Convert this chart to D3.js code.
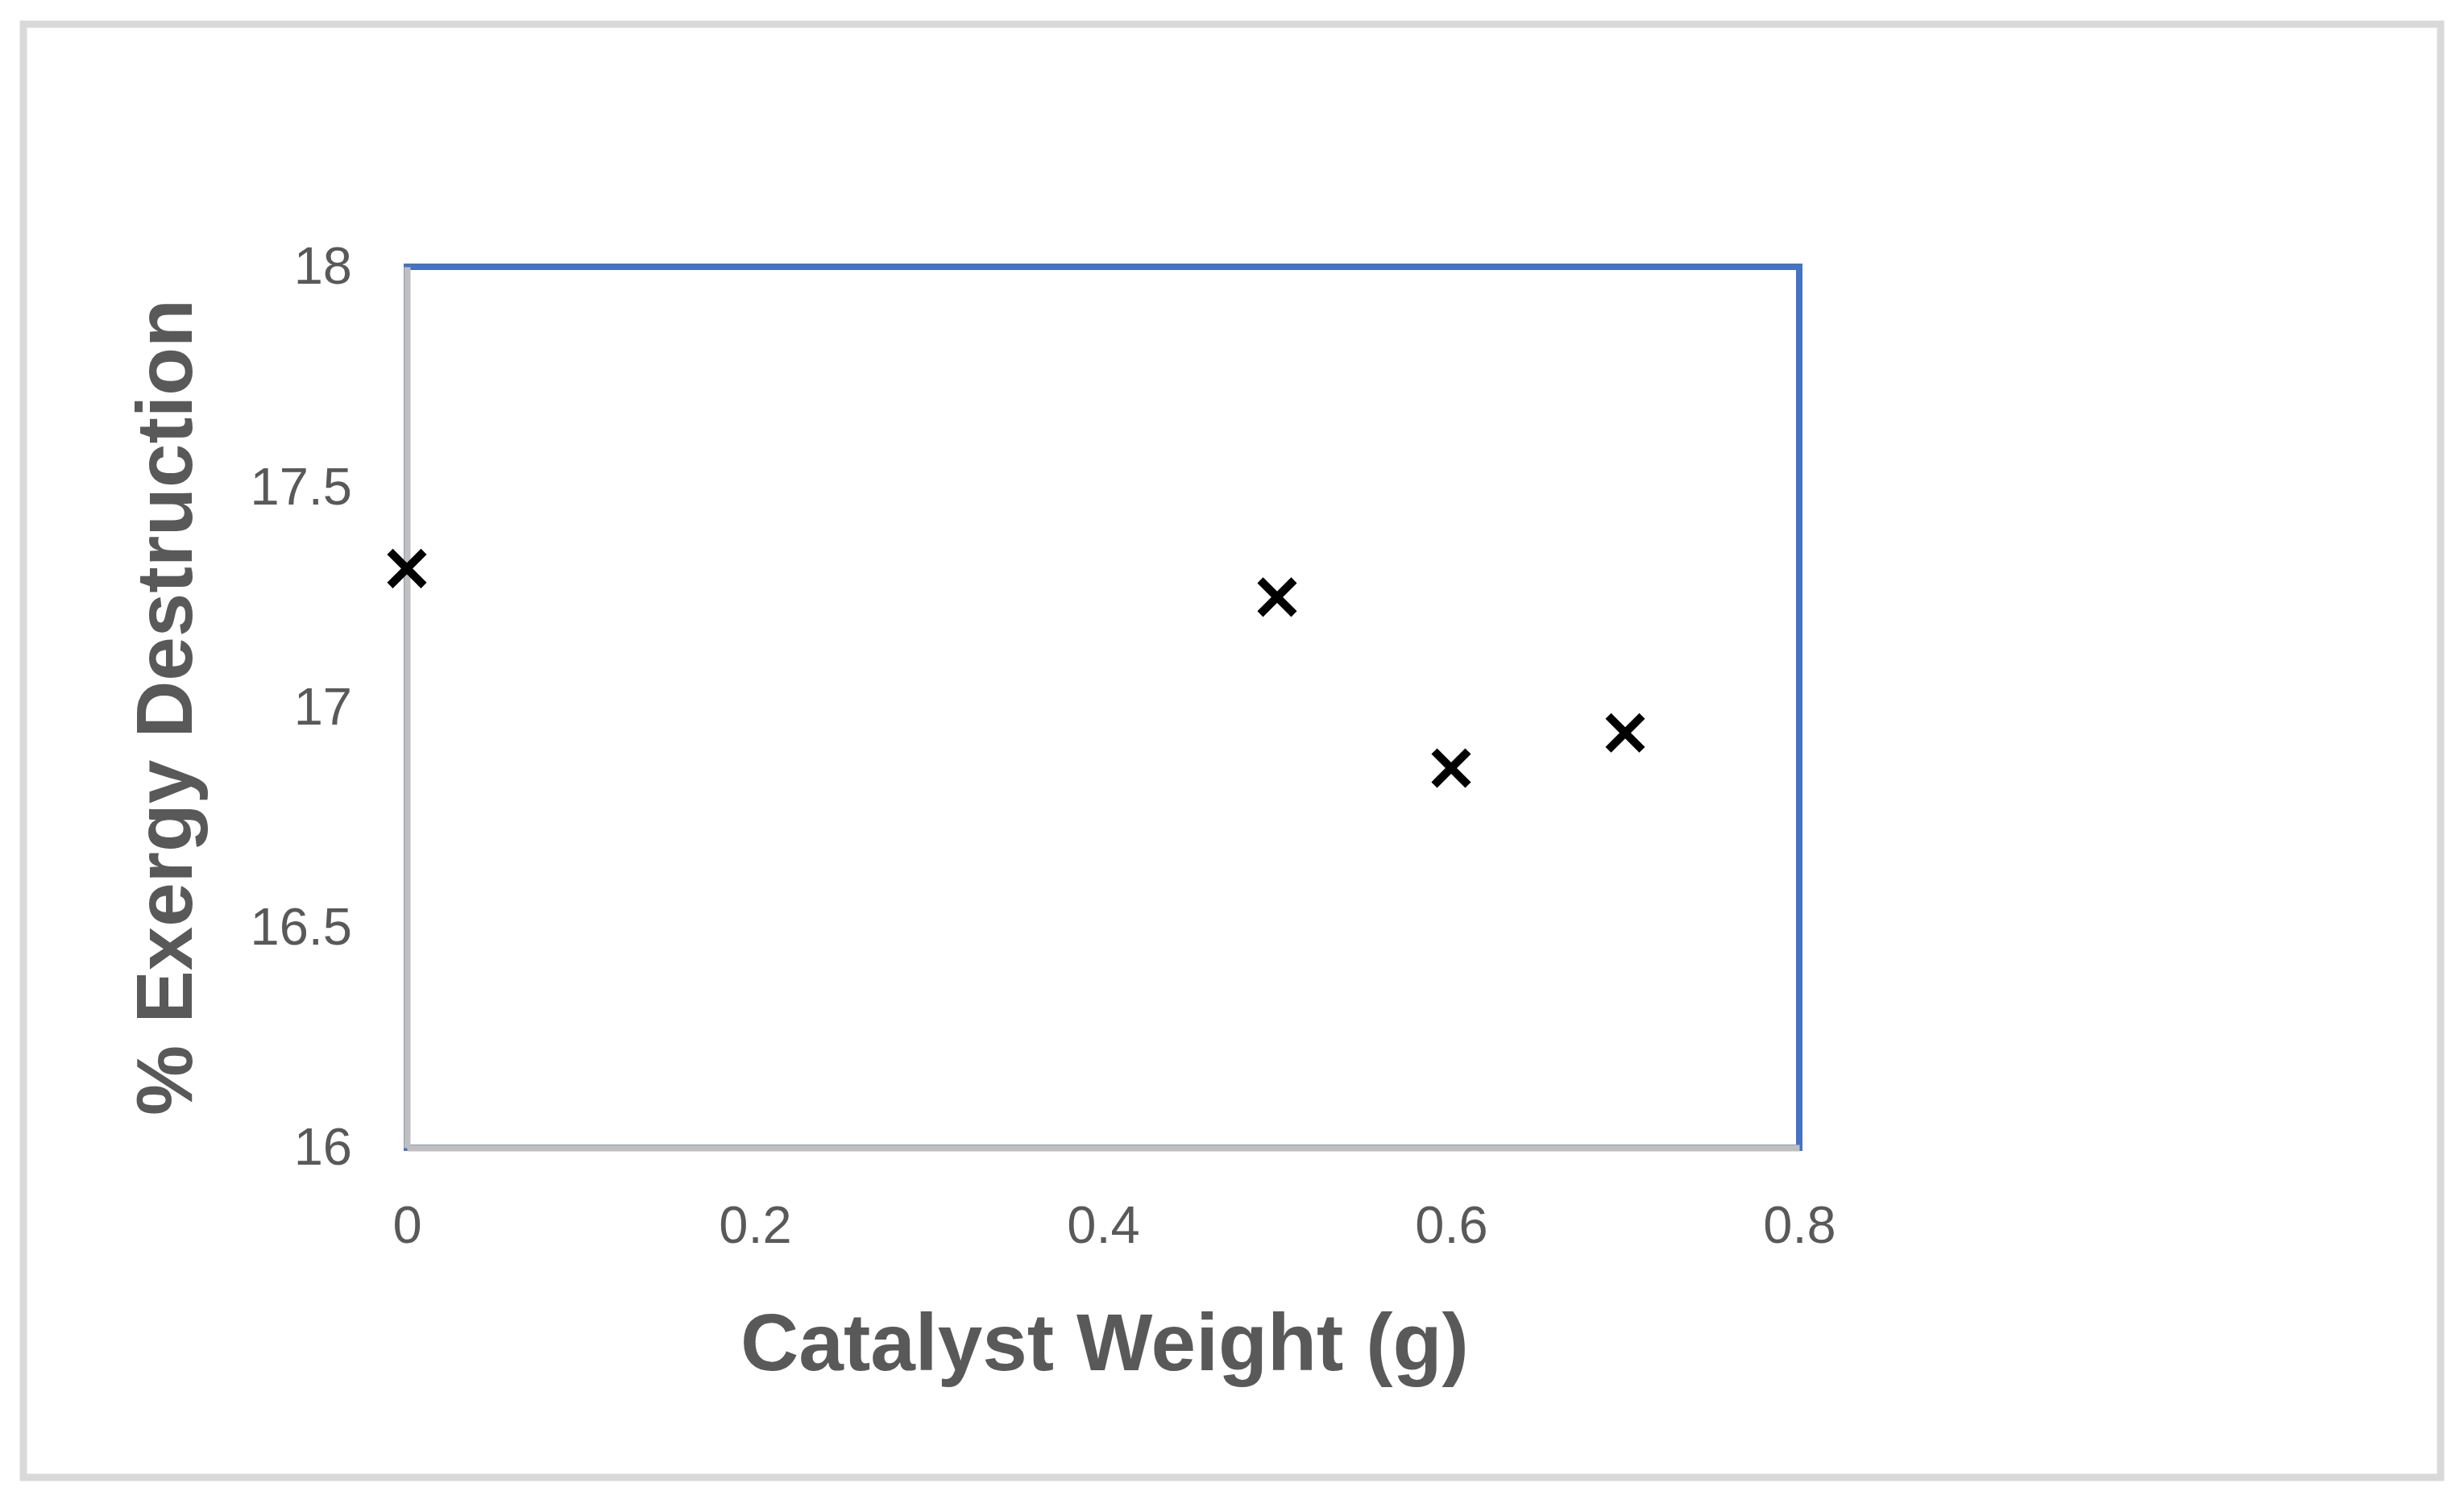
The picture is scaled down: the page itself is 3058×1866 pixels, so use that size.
<!DOCTYPE html>
<html lang="en">
<head>
<meta charset="utf-8">
<title>Exergy Destruction vs Catalyst Weight</title>
<style>
  body { margin: 0; background: #fff; }
  svg { display: block; }
  .tick text { font-family: "Liberation Sans", Arial, sans-serif; fill: #595959; }
  .axis-title { font-family: "Liberation Sans", Arial, sans-serif; font-weight: bold; fill: #595959; }
</style>
</head>
<body>
<svg width="3058" height="1866"></svg>
<script src="https://cdnjs.cloudflare.com/ajax/libs/d3/7.8.5/d3.min.js"></script>
<script>

// data
var catalystWeight = [0, 0.5, 0.6, 0.7];
var exergyDestruction = [17.315, 17.25, 16.862, 16.942];

var xTicks = [0, 0.2, 0.4, 0.6, 0.8];
var yTicks = [16, 16.5, 17, 17.5, 18];

var svg = d3.select("svg"),
    margin = {top: 331, right: 825, bottom: 442, left: 505},
    width = +svg.attr("width") - margin.left - margin.right,
    height = +svg.attr("height") - margin.top - margin.bottom;

// outer chart frame
svg.append("rect")
    .attr("x", 29).attr("y", 30)
    .attr("width", 3000).attr("height", 1803)
    .attr("fill", "#fff")
    .attr("stroke", "#d9d9d9")
    .attr("stroke-width", 9);

var g = svg.append("g").attr("transform", "translate(" + margin.left + "," + margin.top + ")");

var x = d3.scaleLinear().domain([0, 0.8]).range([0, width]);
var y = d3.scaleLinear().domain([16, 18]).range([height, 0]);

// plot area border (blue)
g.append("rect")
    .attr("x", 0).attr("y", 0)
    .attr("width", width).attr("height", height)
    .attr("fill", "none")
    .attr("stroke", "#4472c4")
    .attr("stroke-width", 8);

// axes
var xAxis = g.append("g")
    .attr("transform", "translate(0," + height + ")")
    .call(d3.axisBottom(x).tickValues(xTicks).tickSize(0).tickPadding(72).tickFormat(d3.format("")));
xAxis.select(".domain").attr("stroke", "#bfbfbf").attr("stroke-width", 8);
xAxis.selectAll(".tick text").attr("font-size", 65);

var yAxis = g.append("g")
    .call(d3.axisLeft(y).tickValues(yTicks).tickSize(0).tickPadding(68).tickFormat(d3.format("")));
yAxis.select(".domain").attr("stroke", "#bfbfbf").attr("stroke-width", 8);
yAxis.selectAll(".tick text").attr("font-size", 65);

// axis titles
g.append("text")
    .attr("class", "axis-title")
    .attr("x", x(0.4) + 2)
    .attr("y", height + 276)
    .attr("text-anchor", "middle")
    .attr("font-size", 100)
    .text("Catalyst Weight (g)");

g.append("text")
    .attr("class", "axis-title")
    .attr("transform", "translate(" + (238 - margin.left) + "," + (height / 2) + ") rotate(-90)")
    .attr("text-anchor", "middle")
    .attr("font-size", 98)
    .text("% Exergy Destruction");

// x markers
var arm = 21;
g.selectAll(".marker")
    .data(catalystWeight.map(function(d, i) { return {w: d, e: exergyDestruction[i]}; }))
  .enter().append("path")
    .attr("class", "marker")
    .attr("transform", function(d) { return "translate(" + x(d.w) + "," + y(d.e) + ")"; })
    .attr("d", "M" + (-arm) + "," + (-arm) + "L" + arm + "," + arm + "M" + (-arm) + "," + arm + "L" + arm + "," + (-arm))
    .attr("stroke", "#000")
    .attr("stroke-width", 10)
    .attr("fill", "none");

</script>
</body>
</html>
